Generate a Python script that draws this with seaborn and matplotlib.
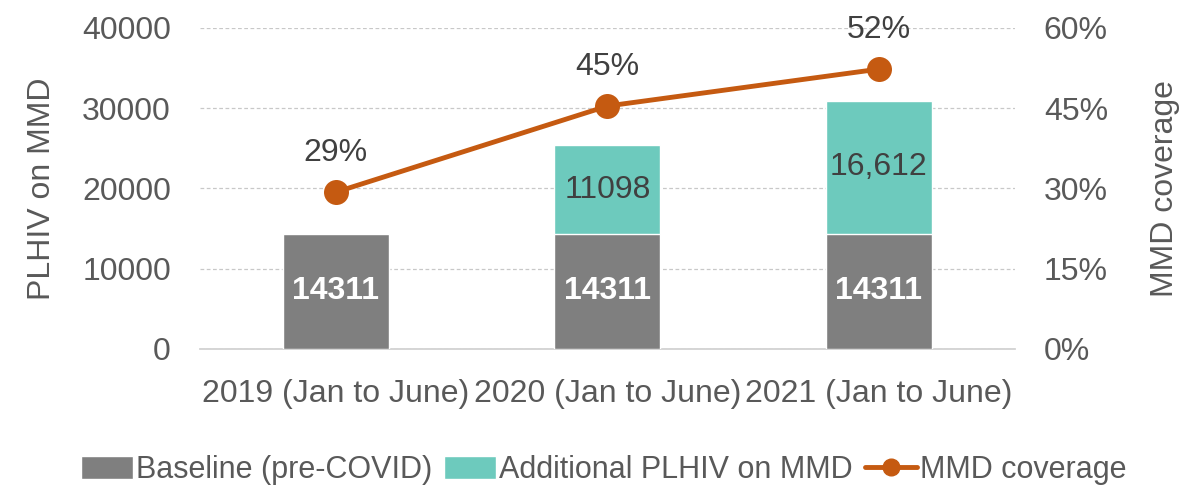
import numpy as np
import pandas as pd
import matplotlib.pyplot as plt
import seaborn as sns
from matplotlib.patches import Patch
from matplotlib.lines import Line2D
import matplotlib.ticker as ticker

# data
periods = ['2019 (Jan to June)', '2020 (Jan to June)', '2021 (Jan to June)']
baseline = [14311, 14311, 14311]
additional = [0, 11098, 16612]
additional_labels = ['', '11098', '16,612']
coverage = [0.293, 0.454, 0.523]
coverage_labels = ['29%', '45%', '52%']

sns.set_theme(style='white')
plt.rcParams['font.family'] = ['Liberation Sans', 'DejaVu Sans']

c_base = '#7F7F7F'
c_add = '#6DCABD'
c_line = '#C55A11'
c_tick = '#595959'
c_text = '#404040'
fs = 23

df = pd.DataFrame({'period': periods, 'baseline': baseline, 'additional': additional})
df['total'] = df['baseline'] + df['additional']

fig = plt.figure(figsize=(11.84, 4.9), dpi=100)
ax = fig.add_axes([0.169, 0.288, 0.688, 0.655])

# stacked bars: total first, baseline on top of it
sns.barplot(data=df, x='period', y='total', color=c_add, width=0.39,
            saturation=1, ax=ax, zorder=2)
sns.barplot(data=df, x='period', y='baseline', color=c_base, width=0.39,
            saturation=1, ax=ax, zorder=3)

ax.set_ylim(0, 40000)
ax.set_xlim(-0.5, 2.5)
ax.yaxis.set_major_locator(ticker.MultipleLocator(10000))
ax.grid(axis='y', color='#C8C8C8', linestyle=(0, (3, 2)), linewidth=0.9, zorder=0)
ax.set_axisbelow(True)
for s in ['top', 'right', 'left']:
    ax.spines[s].set_visible(False)
ax.spines['bottom'].set_color('#D0D0D0')
ax.tick_params(axis='both', labelsize=fs, colors=c_tick, length=0)
ax.tick_params(axis='y', pad=21)
ax.tick_params(axis='x', pad=22)
ax.set_xlabel('')
ax.set_ylabel('PLHIV on MMD', fontsize=fs, color=c_tick, labelpad=18)

# bar labels
for i in range(len(periods)):
    ax.text(i, baseline[i] / 2, str(baseline[i]), ha='center', va='center',
            fontsize=fs, fontweight='bold', color='white', zorder=5)
    if additional[i] > 0:
        ax.text(i, baseline[i] + additional[i] / 2, additional_labels[i],
                ha='center', va='center', fontsize=fs, color=c_text, zorder=5)

# coverage line on secondary axis
ax2 = ax.twinx()
sns.lineplot(x=np.arange(len(periods)), y=coverage, color=c_line, linewidth=3.5,
             marker='o', markersize=18, markeredgewidth=0, ax=ax2, zorder=6)
ax2.set_ylim(0, 0.6)
ax2.set_xlim(-0.5, 2.5)
ax2.yaxis.set_major_locator(ticker.MultipleLocator(0.15))
ax2.yaxis.set_major_formatter(ticker.FuncFormatter(lambda v, p: f'{v*100:.0f}%'))
for s in ['top', 'right', 'left', 'bottom']:
    ax2.spines[s].set_visible(False)
ax2.tick_params(axis='y', labelsize=fs, colors=c_tick, length=0, pad=21)
ax2.set_ylabel('MMD coverage', fontsize=fs, color=c_tick, labelpad=30)
for i in range(len(periods)):
    ax2.text(i, coverage[i] + 0.045, coverage_labels[i], ha='center', va='bottom',
             fontsize=fs, color=c_text, zorder=7)

handles = [Patch(facecolor=c_base, label='Baseline (pre-COVID)'),
           Patch(facecolor=c_add, label='Additional PLHIV on MMD'),
           Line2D([0], [0], color=c_line, linewidth=3.5, marker='o', markersize=12,
                  label='MMD coverage')]
leg = fig.legend(handles=handles, loc='center', bbox_to_anchor=(0.51, 0.04), ncol=3,
                 frameon=False, fontsize=22, handlelength=1.7, handletextpad=0.1,
                 columnspacing=0.4, handleheight=0.8)
for t in leg.get_texts():
    t.set_color(c_tick)

fig.savefig('out.png', dpi=100)
